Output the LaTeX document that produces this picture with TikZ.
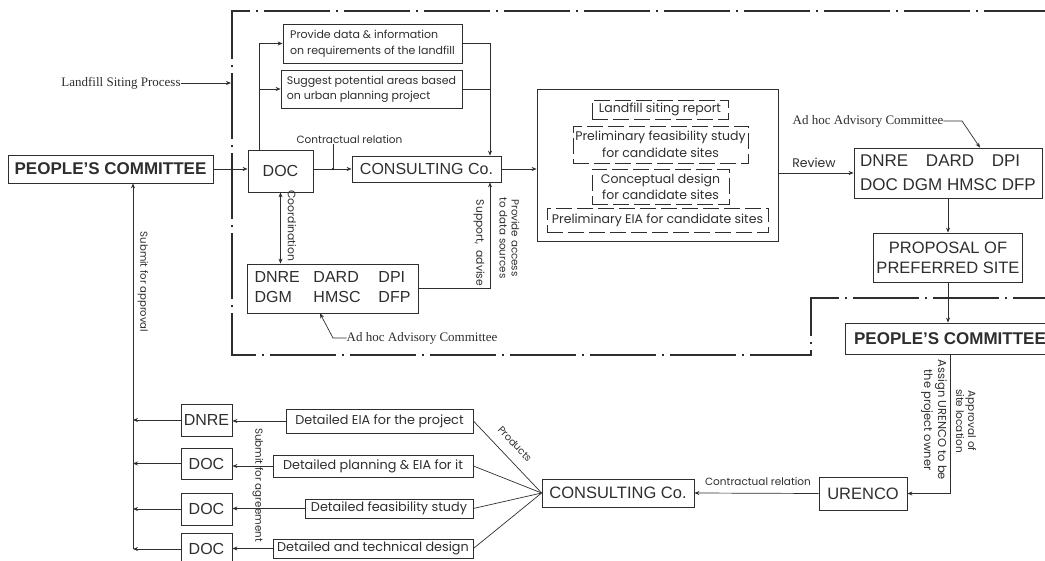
\documentclass[tikz,border=0pt]{standalone}
\usepackage{fontspec}
\setmainfont{Liberation Serif}
\newfontfamily\arialf{Liberation Sans}
\newfontfamily\gothf{Poppins}
\usetikzlibrary{arrows.meta}
\definecolor{ink}{gray}{0.18}
\newcommand\gsz[2]{\gothf\fontsize{#1}{#2}\selectfont}
\newcommand\asz[2]{\arialf\fontsize{#1}{#2}\selectfont}
\begin{document}
\begin{tikzpicture}[x=1pt,y=-1pt,
  box/.style={draw=ink, line width=0.8pt, inner sep=0pt, text=ink},
  dbox/.style={box, dash pattern=on 16pt off 5pt},
  lbl/.style={text=ink, inner sep=0pt, font=\gsz{10.3}{12}},
  serif/.style={text=ink, inner sep=0pt, font=\fontsize{13}{15}\selectfont},
  arr/.style={draw=ink, line width=0.7pt, -{Stealth[length=5pt,width=4pt]}},
  arr2/.style={draw=ink, line width=0.7pt, {Stealth[length=5pt,width=4pt]}-{Stealth[length=5pt,width=4pt]}},
  ln/.style={draw=ink, line width=0.7pt},
  frame/.style={draw=ink, line width=2pt, dash pattern=on 66pt off 6pt on 2pt off 6pt}
]
\useasboundingbox (0,0) rectangle (1045,561);

% dash-dot frame
\draw[frame] (1050,11) -- (232,11) -- (232,355) -- (811,355) -- (811,298) -- (1050,298);

% top left part
\node[serif] (lsp) at (121,83) {Landfill Siting Process};
\coordinate (frx) at (231,83);
\draw[arr] (lsp.east) -- (frx);

\node[box, minimum width=205, minimum height=28, font=\asz{17}{20}\bfseries] (pcl) at (110.5,169) {PEOPLE’S COMMITTEE};
\node[box, minimum width=65, minimum height=42, font=\asz{16}{18}] (doc) at (280.5,171) {DOC};
\node[box, minimum width=149, minimum height=26, font=\asz{16}{18}] (cons) at (426.5,169) {CONSULTING Co.};

\node[box, minimum width=179, minimum height=39, align=left, font=\gsz{11}{16}] (b1) at (372.5,43.5) {Provide data \& information\\on requirements of the landfill};
\node[box, minimum width=181, minimum height=38, align=left, font=\gsz{11}{15}] (b2) at (371.5,89) {Suggest potential areas based\\on urban planning project};

\draw[arr] (pcl.east) -- (pcl.east -| doc.west);
\draw[arr] (doc.east |- cons.west) -- (cons.west);
\node[lbl, font=\gsz{10.5}{12}] (cr1) at (349.5,140) {Contractual relation};
\coordinate (ctick) at (333,169);
\draw[ln] (cr1.south -| ctick) -- (ctick);
\fill[ink] (ctick) circle (1.3pt);

\coordinate (lx) at (259,0);
\coordinate (rx) at (490,0);
\draw[arr] (doc.north -| lx) |- (b1.west);
\draw[arr] (b2.west -| lx) -- (b2.west);
\draw[arr] (b1.east) -| (cons.north -| rx);
\draw[ln] (b2.east) -- (b2.east -| rx);

% left advisory committee
\node[box, minimum width=171, minimum height=49, font=\asz{16}{20}] (advl) at (332.5,288.5)
  {\begin{tabular}{@{}p{59pt}@{}p{65pt}@{}l@{}}DNRE&DARD&DPI\\DGM&HMSC&DFP\end{tabular}};
\draw[arr2] (doc.south) -- (doc.south |- advl.north);
\node[lbl, rotate=-90, font=\gsz{10.8}{12}] (coord) at (292,226) {Coordination};
\draw[arr] (advl.east) -| (cons.south -| rx);
\node[lbl, rotate=-90, font=\gsz{10.8}{12}] (supp) at (479,243) {Support,\ \ advise};
\node[lbl, rotate=-90, align=center] (prov) at (509.5,238) {Provide access\\to data sources};
\node[serif] (ah1) at (422,338) {Ad hoc Advisory Committee};
\coordinate (ah1k) at (333,338);
\draw[arr] (ah1.west) -- (ah1k) -- (advl.south -| 320,0);

% big box of products
\node[box, minimum width=241, minimum height=152] (big) at (657.5,165) {};
\node[dbox, minimum width=136, minimum height=19, font=\gsz{12.5}{17}] (d1) at (660,109.5) {Landfill siting report};
\node[dbox, minimum width=175, minimum height=37, align=center, font=\gsz{12.5}{17}] (d2) at (660.5,144.5) {Preliminary feasibility study\\for candidate sites};
\node[dbox, minimum width=137, minimum height=35, align=center, font=\gsz{12.5}{16}] (d3) at (660.5,186.5) {Conceptual design\\for candidate sites};
\node[dbox, minimum width=221, minimum height=24, font=\gsz{12.5}{16}] (d4) at (657.5,220) {Preliminary EIA for candidate sites};
\draw[arr] (cons.east) -- (cons.east -| big.west);

% right advisory committee
\node[box, minimum width=188, minimum height=50, align=left, font=\asz{17}{24}] (advr) at (948,173)
  {\makebox[160pt][l]{DNRE\hfill DARD\hfill DPI}\\DOC DGM HMSC DFP};
\draw[arr] (big.east |- advr.west) -- (advr.west);
\node[lbl, font=\gsz{12.5}{14}] (rev) at (814,163) {Review};
\node[serif] (ah2) at (868,121) {Ad hoc Advisory Committee};
\coordinate (ah2k) at (962,121);
\draw[arr] (ah2.east) -- (ah2k) -- (advr.north -| 980,0);

\node[box, minimum width=149, minimum height=49, align=center, font=\asz{16.5}{20}] (prop) at (948,257.5) {PROPOSAL OF\\PREFERRED SITE};
\draw[arr] (advr.south -| prop.north) -- (prop.north);
\node[box, minimum width=210, minimum height=31, font=\asz{17}{20}\bfseries] (pcr) at (950,338.5) {PEOPLE’S COMMITTEE};
\draw[arr] (prop.south) -- (prop.south |- pcr.north);

% lower part
\node[box, minimum width=88, minimum height=33, font=\asz{16.5}{18}] (ur) at (863,493.5) {URENCO};
\draw[arr] (pcr.south) |- (ur.east);
\node[lbl, rotate=-90, align=center, font=\gsz{10.5}{12}] (appr) at (966,421) {Approval of\\site location};
\node[lbl, rotate=-90, align=center, font=\gsz{11.5}{14}] (assg) at (934,420) {Assign URENCO to be\\the project owner};

\node[box, minimum width=152, minimum height=28, font=\asz{16.5}{18}] (cons2) at (618,493) {CONSULTING Co.};
\draw[arr] (ur.west) -- (cons2.east);
\node[lbl, font=\gsz{10.5}{12}] (cr2) at (758,482) {Contractual relation};

\node[box, minimum width=187, minimum height=24, font=\gsz{12.8}{14}] (e1) at (379.5,421) {Detailed EIA for the project};
\node[box, minimum width=200, minimum height=22, font=\gsz{12.8}{14}] (e2) at (373,466) {Detailed planning \& EIA for it};
\node[box, minimum width=168, minimum height=19, font=\gsz{12.8}{14}] (e3) at (389,508.5) {Detailed feasibility study};
\node[box, minimum width=200, minimum height=19, font=\gsz{12.8}{14}] (e4) at (373,548.5) {Detailed and technical design};
\draw[ln] (e1.east) -- (cons2.west);
\draw[ln] (e2.east) -- (cons2.west);
\draw[ln] (e3.east) -- (cons2.west);
\draw[ln] (e4.east) -- (cons2.west);
\node[lbl, rotate=-46.7, font=\gsz{10}{12}] (prod) at (515,444) {Products};

\node[box, minimum width=51, minimum height=32, font=\asz{16}{18}] (dnre) at (206.5,420) {DNRE};
\node[box, minimum width=51, minimum height=31, font=\asz{16}{18}] (doc2) at (206.5,463.5) {DOC};
\node[box, minimum width=51, minimum height=32, font=\asz{16}{18}] (doc3) at (206.5,509) {DOC};
\node[box, minimum width=51, minimum height=32, font=\asz{16}{18}] (doc4) at (206.5,549) {DOC};
\draw[arr] (e1.west) -- (e1.west -| dnre.east);
\draw[arr] (e2.west) -- (e2.west -| doc2.east);
\draw[arr] (e3.west) -- (e3.west -| doc3.east);
\draw[arr] (e4.west) -- (e4.west -| doc4.east);
\node[lbl, rotate=-90] (sagr) at (258,485) {Submit for agreement};

\coordinate (sv) at (133,549);
\draw[arr] (dnre.west) -- (dnre.west -| sv);
\draw[arr] (doc2.west) -- (doc2.west -| sv);
\draw[arr] (doc3.west) -- (doc3.west -| sv);
\draw[arr] (doc4.west) -- (doc4.west -| sv);
\draw[arr] (sv) -- (pcl.south -| sv);
\node[lbl, rotate=-90, font=\gsz{10.1}{12}] (sapp) at (143,282) {Submit for approval};
\end{tikzpicture}
\end{document}
